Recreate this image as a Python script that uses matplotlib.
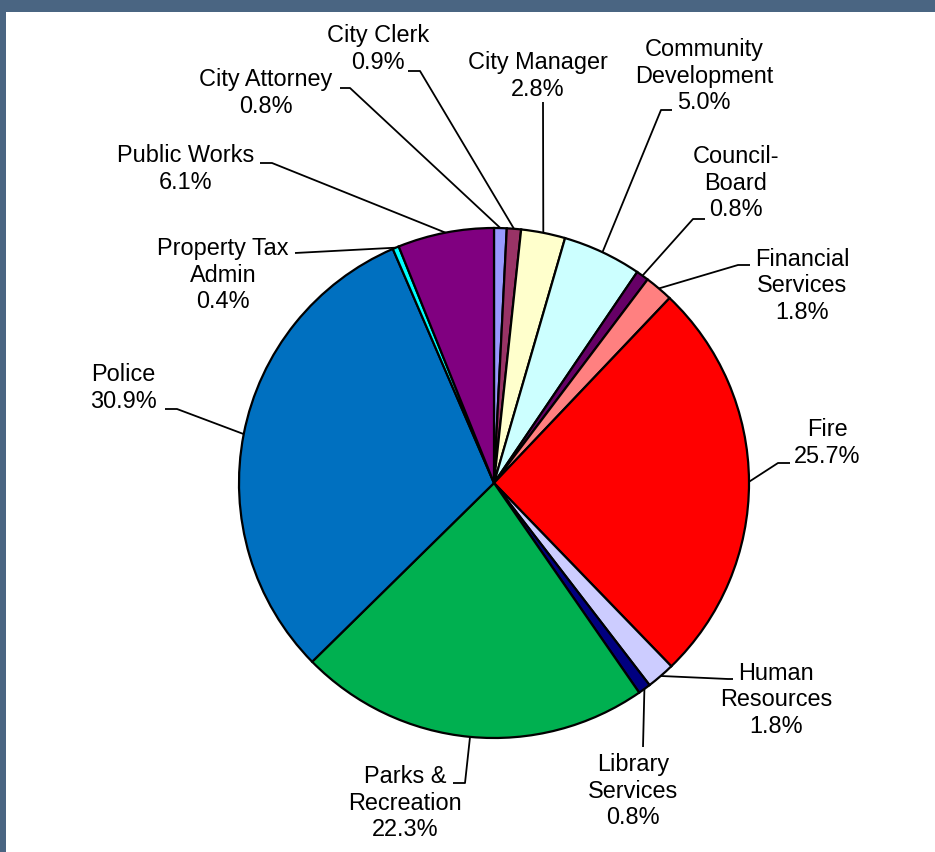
import numpy as np
import matplotlib
matplotlib.use("Agg")
import matplotlib.pyplot as plt
from matplotlib.patches import Rectangle

# ---- data ----
departments = ["City Attorney", "City Clerk", "City Manager", "Community\nDevelopment",
               "Council-\nBoard", "Financial\nServices", "Fire", "Human\nResources",
               "Library\nServices", "Parks &\nRecreation", "Police", "Property Tax\nAdmin",
               "Public Works"]
shares = [0.8, 0.9, 2.8, 5.0, 0.8, 1.8, 25.7, 1.8, 0.8, 22.3, 30.9, 0.4, 6.1]
colors = ["#9999FF", "#993366", "#FFFFCC", "#CCFFFF", "#660066", "#FF8080", "#FF0000",
          "#CCCCFF", "#000080", "#00B050", "#0070C0", "#00FFFF", "#800080"]

# ---- layout (pixel coordinates, y downward) ----
W, H = 935, 852
CX, CY, R = 494, 483, 255
label_pos = [(266, 93), (378, 49), (538, 76), (704, 76), (736, 183), (802, 286),
             (827, 443), (776, 700), (633, 791), (405, 803), (123, 388), (223, 275),
             (186, 169)]
leader_pts = [
    [(340, 88), (350, 88)],
    [(408, 71), (420, 71)],
    [(543, 102)],
    [(672, 110), (661, 110)],
    [(705, 219), (693, 219)],
    [(750, 265), (738, 265)],
    [(790, 463), (778, 463)],
    [(733, 679), (728, 679)],
    [(643, 747)],
    [(453, 783), (465, 783)],
    [(165, 409), (177, 409)],
    [(295, 253)],
    [(260, 163), (272, 163)],
]

FONT = ["Liberation Sans", "DejaVu Sans"]

fig = plt.figure(figsize=(W / 100, H / 100), dpi=100)
fig.patch.set_facecolor("white")
ax = fig.add_axes([0, 0, 1, 1])

ax.pie(shares, colors=colors, startangle=90, counterclock=False,
       center=(CX, H - CY), radius=R,
       wedgeprops=dict(edgecolor="black", linewidth=1.6))
ax.set_xlim(0, W)
ax.set_ylim(0, H)
ax.set_aspect("auto")
ax.axis("off")

total = sum(shares)
cum = 0.0
for name, v, (tx, ty), pts in zip(departments, shares, label_pos, leader_pts):
    mid = (cum + v / 2) / total * 2 * np.pi
    cum += v
    ex = CX + R * np.sin(mid)
    ey = CY - R * np.cos(mid)
    path = pts + [(ex, ey)]
    xs = [p[0] for p in path]
    ys = [H - p[1] for p in path]
    ax.plot(xs, ys, color="black", linewidth=1.3, solid_capstyle="butt", zorder=5)
    ax.text(tx, H - ty, f"{name}\n{v:.1f}%", ha="center", va="center",
            multialignment="center", fontsize=16.9, family=FONT,
            linespacing=1.22, color="black", zorder=6)

# frame border (top and left)
border = "#4A6582"
fig.patches.append(Rectangle((0, 1 - 12 / H), 1, 12 / H, transform=fig.transFigure,
                             facecolor=border, edgecolor="none", zorder=10))
fig.patches.append(Rectangle((0, 0), 6 / W, 1, transform=fig.transFigure,
                             facecolor=border, edgecolor="none", zorder=10))

fig.savefig("out.png", dpi=100, facecolor="white")
